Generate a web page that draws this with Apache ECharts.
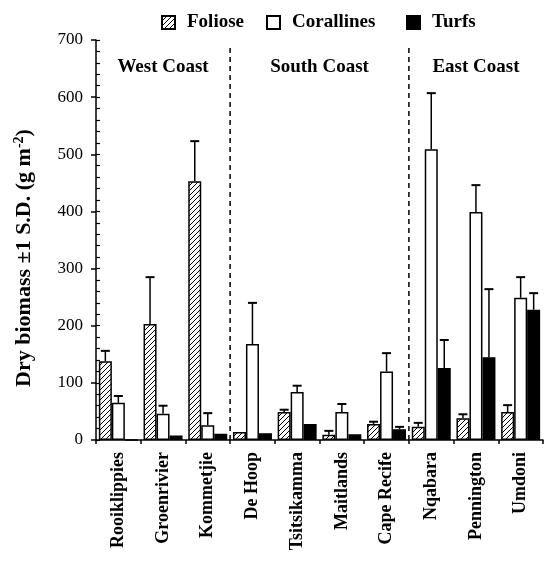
<!DOCTYPE html>
<html><head><meta charset="utf-8">
<script src="https://cdn.jsdelivr.net/npm/echarts@6/dist/echarts.min.js"></script>
<style>html,body{margin:0;padding:0;background:#fff}#c{width:546px;height:562px}</style>
</head><body><div id="c"></div>
<script>
const sites = ['Rooiklippies','Groenrivier','Kommetjie','De Hoop','Tsitsikamma','Maitlands','Cape Recife','Nqabara','Pennington','Umdoni'];
const foliose      = [138, 203, 453, 14, 49, 9, 28, 23, 38, 49];
const folioseErr   = [156, 285, 523, 14, 53, 16, 32, 30, 45, 61];
const corallines   = [65, 46, 26, 168, 84, 49, 120, 509, 399, 249];
const corallinesErr= [77, 60, 47, 240, 95, 63, 152, 607, 446, 285];
const turfs        = [0, 8, 11, 12, 28, 10, 19, 126, 145, 228];
const turfsErr     = [0, 8, 11, 12, 28, 10, 23, 175, 264, 257];
const regionNames  = ['West Coast','South Coast','East Coast'];
const regionFirst  = [0, 3, 7];
const regionLast   = [2, 6, 9];
const yTicks = {min:0, max:700, interval:100, minorInterval:20};
const seriesNames = ['Foliose','Corallines','Turfs'];

const FONT = '"Liberation Serif", "Times New Roman", serif';

// hatch pattern
const pc = document.createElement('canvas');
pc.width = 5; pc.height = 5;
const g = pc.getContext('2d');
g.fillStyle = '#fff'; g.fillRect(0,0,5,5);
g.strokeStyle = '#000'; g.lineWidth = 1;
g.beginPath();
g.moveTo(-1,6); g.lineTo(6,-1);
g.moveTo(-1,1); g.lineTo(1,-1);
g.moveTo(4,6); g.lineTo(6,4);
g.stroke();
const hatch = {image: pc, repeat: 'repeat'};

const BW = 13;
function errSeries(vals, errs, k){
  return {
    type:'custom', z:5, silent:true,
    data: vals.map((v,i)=>[i, v, errs[i]]),
    renderItem(params, api){
      const i = api.value(0), v = api.value(1), e = api.value(2);
      if (e <= v) return null;
      const p1 = api.coord([i, v]), p2 = api.coord([i, e]);
      const x = p1[0] + (k-1)*BW;
      return {type:'group', children:[
        {type:'line', shape:{x1:x,y1:p1[1],x2:x,y2:p2[1]}, style:{stroke:'#000',lineWidth:1.5}},
        {type:'line', shape:{x1:x-4.5,y1:p2[1],x2:x+4.5,y2:p2[1]}, style:{stroke:'#000',lineWidth:2}}
      ]};
    }
  };
}

const legendLefts = [156, 261, 401];
const legendBase = {top:8, itemWidth:13, itemHeight:13, icon:'rect',
  textStyle:{fontFamily:FONT, fontWeight:'bold', fontSize:19, color:'#000', padding:[0,0,0,7]}};

const chart = echarts.init(document.getElementById('c'));
chart.setOption({
  animation:false,
  textStyle:{fontFamily:FONT, color:'#000'},
  grid:{left:96, right:3, top:40, bottom:122},
  legend: seriesNames.map((n,i)=>Object.assign({}, legendBase, {left:legendLefts[i], data:[n]})),
  xAxis:{
    type:'category', data:sites,
    axisLine:{lineStyle:{color:'#000', width:1.5}},
    axisTick:{show:true, length:4, lineStyle:{color:'#000', width:1.5}},
    axisLabel:{rotate:90, fontFamily:FONT, fontWeight:'bold', fontSize:18, color:'#000', margin:12, interval:0}
  },
  yAxis:[{
    type:'value', min:yTicks.min, max:yTicks.max, interval:yTicks.interval,
    name:'Dry biomass ±1 S.D. (g m{sup|-2})',
    nameLocation:'middle', nameGap:60, nameRotate:90,
    nameTextStyle:{fontFamily:FONT, fontWeight:'bold', fontSize:22, color:'#000', padding:[0,0,0,-36],
      rich:{sup:{fontFamily:FONT, fontWeight:'bold', fontSize:14, verticalAlign:'top', padding:[0,0,10,0]}}},
    axisLine:{show:true, lineStyle:{color:'#000', width:1.5}},
    axisTick:{show:true, length:5, lineStyle:{color:'#000', width:1.5}},
    splitLine:{show:false},
    axisLabel:{fontFamily:FONT, fontSize:17, color:'#000', margin:13}
  },{
    type:'value', position:'left', min:yTicks.min, max:yTicks.max, interval:yTicks.minorInterval,
    axisLine:{show:false},
    axisTick:{show:true, inside:true, length:4, lineStyle:{color:'#000', width:1.2}},
    axisLabel:{show:false}, splitLine:{show:false}
  }],
  series:[
    {name:'Foliose', type:'bar', data:foliose, barWidth:BW, barGap:'0%',
     itemStyle:{color:hatch, borderColor:'#000', borderWidth:1.5}},
    {name:'Corallines', type:'bar', data:corallines, barWidth:BW, barGap:'0%',
     itemStyle:{color:'#fff', borderColor:'#000', borderWidth:1.5}},
    {name:'Turfs', type:'bar', data:turfs, barWidth:BW, barGap:'0%',
     itemStyle:{color:'#000', borderColor:'#000', borderWidth:1.5}},
    errSeries(foliose, folioseErr, 0),
    errSeries(corallines, corallinesErr, 1),
    errSeries(turfs, turfsErr, 2),
    {
      type:'custom', z:4, silent:true,
      data: regionNames.map((n,r)=>[regionFirst[r], regionLast[r], n]),
      renderItem(params, api){
        const a = api.value(0), b = api.value(1), name = regionNames[params.dataIndex];
        const band = api.size([1,0])[0];
        const xs = api.coord([a,0])[0] - band/2;
        const xe = api.coord([b,0])[0] + band/2;
        const y0 = api.coord([a,yTicks.min])[1];
        const yTop = api.coord([a,yTicks.max])[1];
        const children = [{type:'text', style:{text:name, x:(xs+xe)/2, y:yTop+27, align:'center', verticalAlign:'middle',
          font:'bold 19px ' + FONT, fill:'#000'}}];
        if (params.dataIndex < regionNames.length-1) {
          children.push({type:'line', shape:{x1:xe,y1:y0,x2:xe,y2:yTop+5}, style:{stroke:'#000', lineWidth:1.5, lineDash:[5,4]}});
        }
        return {type:'group', children};
      }
    }
  ]
});
</script></body></html>
